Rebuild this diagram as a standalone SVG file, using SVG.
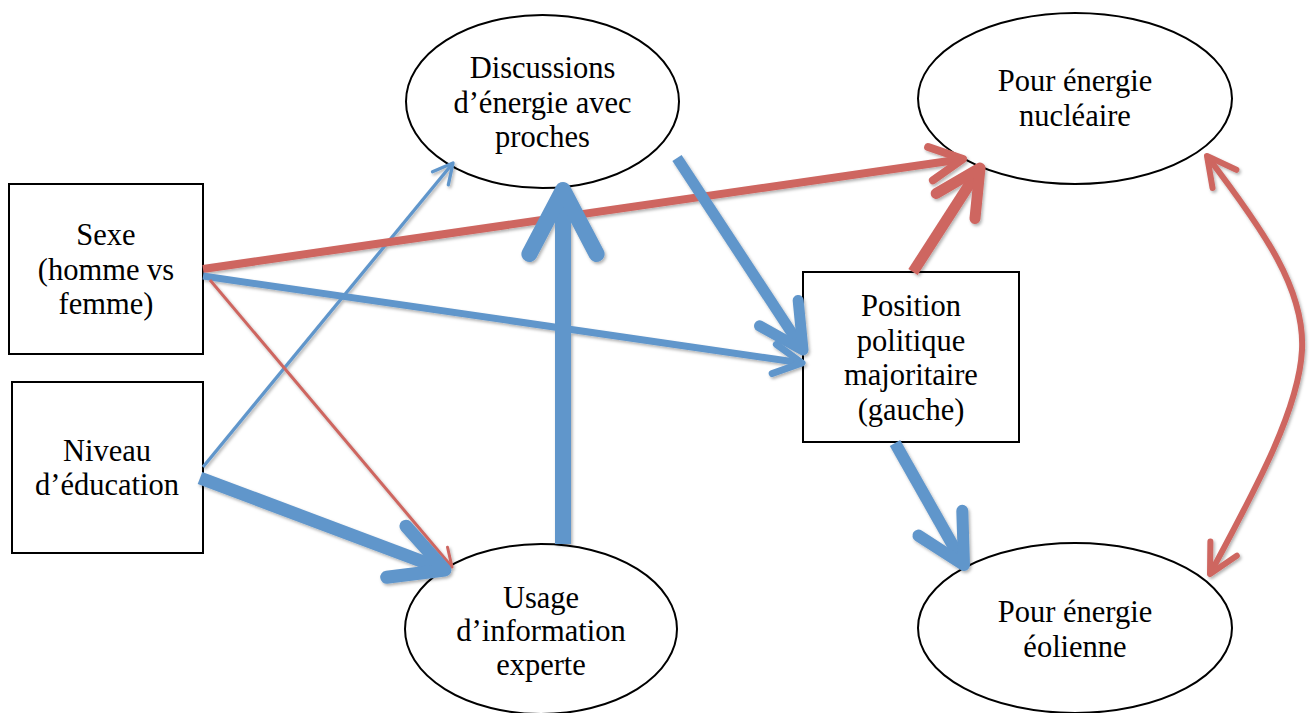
<svg xmlns="http://www.w3.org/2000/svg" width="1311" height="713" viewBox="0 0 1311 713">
<style>
  .node { fill: #ffffff; stroke: #000000; stroke-width: 2; }
  .lbl { font-family: "Liberation Serif", "DejaVu Serif", serif; font-size: 30.5px; fill: #000000; text-anchor: middle; }
  .blue { stroke: #6196CB; fill: none; }
  .red { stroke: #CE6661; fill: none; }
  .head { fill: none; stroke-width: 1; stroke-linecap: round; stroke-linejoin: round; }
</style>
<defs>
  <filter id="shadow" x="-10%" y="-10%" width="120%" height="120%">
    <feDropShadow dx="1.5" dy="2" stdDeviation="1.5" flood-color="#000000" flood-opacity="0.3"/>
  </filter>
  <marker id="ab-l" markerUnits="strokeWidth" orient="auto-start-reverse" refX="0" refY="0" markerWidth="1" markerHeight="1" overflow="visible">
    <path class="head" stroke="#6196CB" d="M-4,-2.1 L0,0 L-4,2.1"/>
  </marker>
  <marker id="ab-s" markerUnits="strokeWidth" orient="auto-start-reverse" refX="0" refY="0" markerWidth="1" markerHeight="1" overflow="visible">
    <path class="head" stroke="#6196CB" d="M-6,-3.1 L0,0 L-6,3.1"/>
  </marker>
  <marker id="ar-l" markerUnits="strokeWidth" orient="auto-start-reverse" refX="0" refY="0" markerWidth="1" markerHeight="1" overflow="visible">
    <path class="head" stroke="#CE6661" d="M-4.1,-2.1 L0,0 L-4.1,2.1"/>
  </marker>
  <marker id="ar-m" markerUnits="strokeWidth" orient="auto-start-reverse" refX="0" refY="0" markerWidth="1" markerHeight="1" overflow="visible">
    <path class="head" stroke="#CE6661" d="M-4.8,-2.5 L0,0 L-4.8,2.5"/>
  </marker>
  <marker id="ar-s" markerUnits="strokeWidth" orient="auto-start-reverse" refX="0" refY="0" markerWidth="1" markerHeight="1" overflow="visible">
    <path class="head" stroke="#CE6661" d="M-6,-3.1 L0,0 L-6,3.1"/>
  </marker>
</defs>
<rect width="1311" height="713" fill="#ffffff"/>

<g id="node-sexe">
  <rect class="node" x="9" y="184" width="194" height="170"/>
  <text class="lbl" x="106" y="245">Sexe</text>
  <text class="lbl" x="106" y="280">(homme vs</text>
  <text class="lbl" x="106" y="314">femme)</text>
</g>
<g id="node-niveau">
  <rect class="node" x="12" y="382" width="191" height="171"/>
  <text class="lbl" x="107" y="461">Niveau</text>
  <text class="lbl" x="107" y="495">d’éducation</text>
</g>
<g id="node-discussions">
  <ellipse class="node" cx="542.5" cy="101.5" rx="136.5" ry="86.5"/>
  <text class="lbl" x="542.5" y="78">Discussions</text>
  <text class="lbl" x="542.5" y="113">d’énergie avec</text>
  <text class="lbl" x="542.5" y="147">proches</text>
</g>
<g id="node-usage">
  <ellipse class="node" cx="541" cy="629" rx="136" ry="85"/>
  <text class="lbl" x="541" y="608">Usage</text>
  <text class="lbl" x="541" y="641">d’information</text>
  <text class="lbl" x="541" y="675">experte</text>
</g>
<g id="node-position">
  <rect class="node" x="803" y="272" width="216" height="170"/>
  <text class="lbl" x="911" y="316">Position</text>
  <text class="lbl" x="911" y="351">politique</text>
  <text class="lbl" x="911" y="385">majoritaire</text>
  <text class="lbl" x="911" y="420">(gauche)</text>
</g>
<g id="node-nucleaire">
  <ellipse class="node" cx="1075" cy="98.5" rx="157" ry="85.5"/>
  <text class="lbl" x="1075" y="91">Pour énergie</text>
  <text class="lbl" x="1075" y="126">nucléaire</text>
</g>
<g id="node-eolienne">
  <ellipse class="node" cx="1075" cy="628" rx="157" ry="85"/>
  <text class="lbl" x="1075" y="622">Pour énergie</text>
  <text class="lbl" x="1075" y="657">éolienne</text>
</g>

<g id="connectors" filter="url(#shadow)">
  <path class="blue" stroke-width="3.3" marker-end="url(#ab-s)" d="M203,467 L453,163"/>
  <path class="red" stroke-width="8" marker-end="url(#ar-l)" d="M203,269 L963,159"/>
  <path class="blue" stroke-width="7" marker-end="url(#ab-l)" d="M203,276 L802,363"/>
  <path class="red" stroke-width="3" marker-end="url(#ar-s)" d="M210,280 L452,567"/>
  <path class="blue" stroke-width="13" marker-end="url(#ab-l)" d="M200,478 L445,570"/>
  <path class="blue" stroke-width="16" marker-end="url(#ab-l)" d="M563,544 L563,190"/>
  <path class="blue" stroke-width="11" marker-end="url(#ab-l)" d="M677,158 L803,350"/>
  <path class="red" stroke-width="11" marker-end="url(#ar-l)" d="M913,272 L980,168"/>
  <path class="blue" stroke-width="12" marker-end="url(#ab-l)" d="M895,443 L964,565"/>
  <path class="red" stroke-width="6" marker-start="url(#ar-m)" marker-end="url(#ar-m)" d="M1207,156 C1265,232 1305,290 1302,350 C1299,410 1255,490 1210,574"/>
</g>
</svg>
